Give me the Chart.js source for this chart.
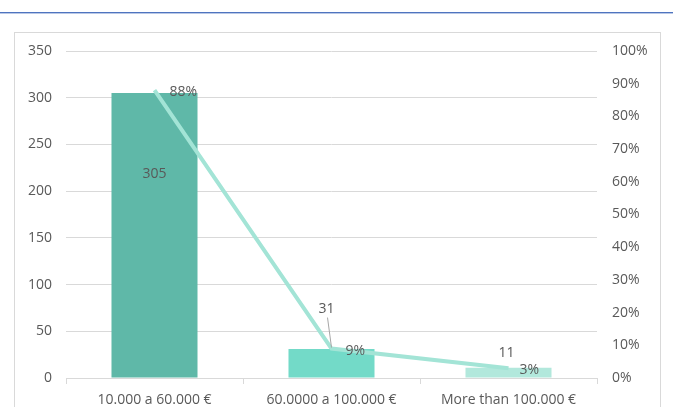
<!DOCTYPE html>
<html>
<head>
<meta charset="utf-8">
<script src="https://cdn.jsdelivr.net/npm/chart.js@4/dist/chart.umd.min.js"></script>
<style>
  html, body { margin: 0; padding: 0; background: #fff; }
  body { width: 673px; height: 407px; position: relative; overflow: hidden; }
  #topline { position: absolute; left: 0; top: 12px; width: 673px; height: 1px; background: #4f74bf; box-shadow: 0 1px 0 #b9c8e6; }
  #frame { position: absolute; left: 14px; top: 32px; width: 647px; height: 400px; border: 1px solid #d9d9d9; box-sizing: border-box; }
  #c { position: absolute; left: 0; top: 0; }
</style>
</head>
<body>
<div id="topline"></div>
<div id="frame"></div>
<canvas id="c" width="673" height="407"></canvas>
<script>
// ---- data ----
const categories = ['10.000 a 60.000 €', '60.0000 a 100.000 €', 'More than 100.000 €'];
const counts = [305, 31, 11];
const shares = [0.88, 0.09, 0.03];
const countLabels = ['305', '31', '11'];
const shareLabels = ['88%', '9%', '3%'];
const leftTicks = [0, 50, 100, 150, 200, 250, 300, 350];
const rightTicks = [0, 0.1, 0.2, 0.3, 0.4, 0.5, 0.6, 0.7, 0.8, 0.9, 1];

// ---- styles ----
const barColors = ['#5fb8a8', '#73dac8', '#b2e8dc'];
const lineColor = '#a3e4d6';
const textColor = '#595959';
const gridColor = '#d9d9d9';
const FONT = "'Open Sans', sans-serif";
const FS = 14;

const labelPlugin = {
  id: 'labels',
  afterDatasetsDraw(chart) {
    const ctx = chart.ctx;
    const lineMeta = chart.getDatasetMeta(0);
    const barMeta = chart.getDatasetMeta(1);
    ctx.save();
    ctx.font = FS + "px " + FONT;
    ctx.fillStyle = textColor;
    ctx.textBaseline = 'middle';
    const shareDx = [15, 14, 11];
    lineMeta.data.forEach((pt, i) => {
      ctx.textAlign = 'left';
      ctx.fillText(shareLabels[i], pt.x + shareDx[i], pt.y + 2);
    });
    barMeta.data.forEach((bar, i) => {
      ctx.textAlign = 'center';
      if (i === 0) {
        ctx.fillText(countLabels[i], bar.x, bar.y + (bar.base - bar.y) * 0.285);
      } else if (i === 1) {
        const pt = lineMeta.data[i];
        const lx = pt.x - 5, ly = pt.y - 40;
        ctx.fillText(countLabels[i], lx, ly);
        ctx.strokeStyle = '#a6a6a6';
        ctx.lineWidth = 1;
        ctx.beginPath();
        ctx.moveTo(lx + 1, ly + 9);
        ctx.lineTo(pt.x, pt.y - 1);
        ctx.stroke();
      } else {
        const pt = lineMeta.data[i];
        ctx.fillText(countLabels[i], pt.x - 2, pt.y - 15);
      }
    });
    ctx.restore();
  }
};

new Chart(document.getElementById('c'), {
  data: {
    labels: categories,
    datasets: [
      {
        type: 'line',
        data: shares,
        yAxisID: 'y1',
        borderColor: lineColor,
        borderWidth: 4,
        pointRadius: 0,
        tension: 0,
        order: 0
      },
      {
        type: 'bar',
        data: counts,
        yAxisID: 'y',
        backgroundColor: barColors,
        categoryPercentage: 1,
        barPercentage: 0.486,
        order: 1
      }
    ]
  },
  options: {
    responsive: false,
    animation: false,
    devicePixelRatio: 1,
    layout: { padding: { top: 51, left: 0, right: 0, bottom: 0 } },
    plugins: { legend: { display: false }, tooltip: { enabled: false } },
    scales: {
      x: {
        offset: true,
        grid: { offset: true, drawOnChartArea: false, color: gridColor, tickLength: 6 },
        border: { color: gridColor },
        ticks: { color: textColor, font: { family: FONT, size: FS }, padding: 8, maxRotation: 0 },
        afterFit: s => { s.height = 29; }
      },
      y: {
        position: 'left',
        min: 0, max: 350,
        afterBuildTicks: s => { s.ticks = leftTicks.map(v => ({ value: v })); },
        grid: { color: gridColor, drawTicks: false },
        border: { display: false },
        ticks: { color: textColor, font: { family: FONT, size: FS }, padding: 14 },
        afterFit: s => { s.width = 66; }
      },
      y1: {
        position: 'right',
        min: 0, max: 1,
        afterBuildTicks: s => { s.ticks = rightTicks.map(v => ({ value: v })); },
        grid: { drawOnChartArea: false, drawTicks: false },
        border: { display: false },
        ticks: { color: textColor, font: { family: FONT, size: FS }, padding: 15,
                 callback: v => Math.round(v * 100) + '%' },
        afterFit: s => { s.width = 76; }
      }
    }
  },
  plugins: [labelPlugin]
});
</script>
</body>
</html>
